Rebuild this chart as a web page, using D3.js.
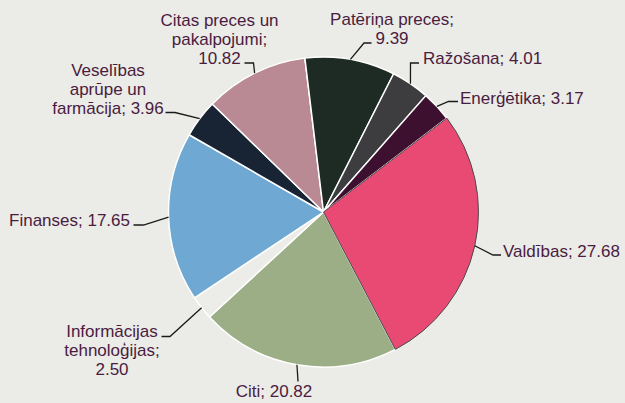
<!DOCTYPE html>
<html>
<head>
<meta charset="utf-8">
<script src="https://cdn.jsdelivr.net/npm/d3@7"></script>
<style>
  html, body { margin: 0; padding: 0; background: #ebebe7; }
  svg { display: block; }
</style>
</head>
<body>
<svg id="chart" width="625" height="403"></svg>
<script>
// ---- data ----
const categories = ["Valdības", "Citi", "Informācijas tehnoloģijas", "Finanses",
  "Veselības aprūpe un farmācija", "Citas preces un pakalpojumi", "Patēriņa preces",
  "Ražošana", "Enerģētika"];
const values = [27.68, 20.82, 2.50, 17.65, 3.96, 10.82, 9.39, 4.01, 3.17];
const labelLines = [
  ["Valdības; 27.68"],
  ["Citi; 20.82"],
  ["Informācijas", "tehnoloģijas;", "2.50"],
  ["Finanses; 17.65"],
  ["Veselības", "aprūpe un", "farmācija; 3.96"],
  ["Citas preces un", "pakalpojumi;", "10.82"],
  ["Patēriņa preces;", "9.39"],
  ["Ražošana; 4.01"],
  ["Enerģētika; 3.17"]
];
const colors = ["#e94a73", "#9bae85", "#ececE8", "#6fa8d3", "#182433", "#b98a94", "#1e2b24", "#3d3d3f", "#3d1030"];

// ---- layout ----
const cx = 323.5, cy = 212, R = 155;
const startDeg = 52.75;
const lineH = 19;
// label layout: text anchor point (x, y of last line baseline), anchor, elbow point, line end
const labelLayout = [
  { tx: 503, ty: 256.5, anchor: "start",  elbow: [493, 255], end: [501, 255] },
  { tx: 274, ty: 396.5, anchor: "middle", elbow: [298, 381.5], end: [298, 381.5] },
  { tx: 112, ty: 374.5, anchor: "middle", firstLine: true, elbow: [170, 336.5], end: [161.5, 336.5] },
  { tx: 130, ty: 225.5, anchor: "end",    elbow: [143.5, 225], end: [133.5, 225] },
  { tx: 108, ty: 113.5, anchor: "middle", elbow: [175, 112.5], end: [165.5, 112.5] },
  { tx: 219.5, ty: 63.5, anchor: "middle", elbow: [253.5, 63], end: [244.5, 63] },
  { tx: 392, ty: 44, anchor: "middle", elbow: [364, 43], end: [371.5, 43] },
  { tx: 423, ty: 63.5, anchor: "start",  elbow: [410.5, 63], end: [419, 63] },
  { tx: 460, ty: 103.5, anchor: "start", elbow: [448.5, 101.5], end: [458, 101.5] }
];

const svg = d3.select("#chart");
svg.append("rect").attr("width", 625).attr("height", 403).attr("fill", "#ebebe7");

const pie = d3.pie().sort(null).value(d => d)
  .startAngle(startDeg * Math.PI / 180)
  .endAngle(startDeg * Math.PI / 180 + 2 * Math.PI);
const arcs = pie(values);
const arc = d3.arc().innerRadius(0).outerRadius(R);

const g = svg.append("g").attr("transform", `translate(${cx},${cy})`);

// draw all slices except the first (Valdības) with white strokes, then Valdības on top
const order = d3.range(1, arcs.length).concat([0]);
g.selectAll("path.slice")
  .data(order.map(i => ({ a: arcs[i], i })))
  .join("path")
  .attr("class", "slice")
  .attr("d", d => arc(d.a))
  .attr("fill", d => colors[d.i])
  .attr("stroke", d => d.i === 0 ? "#4a4a4a" : "#ffffff")
  .attr("stroke-width", d => d.i === 0 ? 1 : 1.5)
  .attr("stroke-linejoin", "round");

// leader lines
const lg = svg.append("g");
arcs.forEach((a, i) => {
  const mid = (a.startAngle + a.endAngle) / 2;
  const p0 = [cx + R * Math.sin(mid), cy - R * Math.cos(mid)];
  const L = labelLayout[i];
  lg.append("path")
    .attr("d", d3.line()([p0, L.elbow, L.end]))
    .attr("fill", "none")
    .attr("stroke", "#1a1a1a")
    .attr("stroke-width", 1.3);
});

// labels
const tg = svg.append("g")
  .attr("font-family", "'Liberation Sans', Arial, sans-serif")
  .attr("font-size", 17)
  .attr("fill", "#4a1c40");
labelLines.forEach((lines, i) => {
  const L = labelLayout[i];
  const n = lines.length;
  const t = tg.append("text").attr("text-anchor", L.anchor);
  lines.forEach((s, k) => {
    t.append("tspan")
      .attr("x", L.tx)
      .attr("y", L.ty - (n - 1 - k) * lineH)
      .text(s);
  });
});
</script>
</body>
</html>
